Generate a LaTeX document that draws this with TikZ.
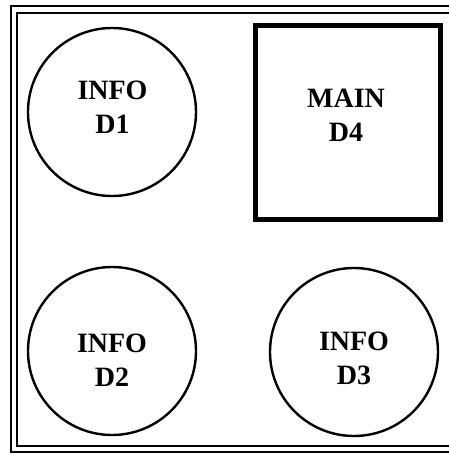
\documentclass[tikz,border=0pt]{standalone}
\usepackage{fontspec}
\setmainfont{Liberation Serif}
\begin{document}
\begin{tikzpicture}[x=1pt,y=-1pt,
  infocircle/.style={circle,draw,line width=2.4pt,minimum size=168pt,inner sep=0pt},
  mainbox/.style={rectangle,draw,line width=5pt,minimum width=185pt,minimum height=194pt,inner sep=0pt},
  tag/.style={align=center,font=\fontsize{28}{34}\selectfont\bfseries,inner sep=0pt}]
\useasboundingbox (0,0) rectangle (449,455);
% outer frame: heavy outer rule with a thin inner rule, open on the right
\draw[line width=2.6pt] (449,6) -- (11,6) -- (11,452) -- (449,452);
\draw[line width=1.2pt] (449,13) -- (17,13) -- (17,446) -- (449,446);
% shapes
\node[infocircle] (d1) at (112,112) {};
\node[mainbox] (d4) at (348,122.5) {};
\node[infocircle] (d2) at (112,351) {};
\node[infocircle] (d3) at (354,352) {};
% labels
\node[tag] (t1) at (112.5,107) {INFO\\D1};
\node[tag] (t4) at (346,115) {MAIN\\D4};
\node[tag] (t2) at (112,360) {INFO\\D2};
\node[tag] (t3) at (354,358) {INFO\\D3};
\end{tikzpicture}
\end{document}
